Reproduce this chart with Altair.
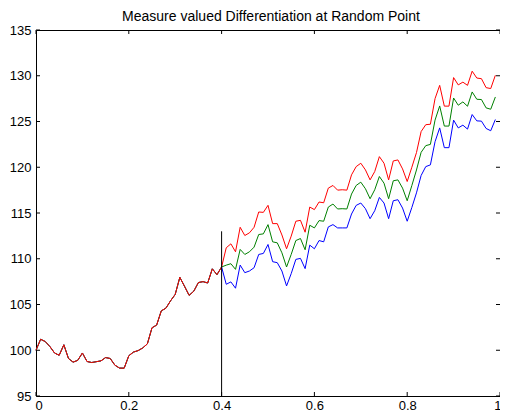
import altair as alt
import pandas as pd

title_text = "Measure valued Differentiation at Random Point"

# shared path from x = 0.00 to 0.40 (step 0.01)
common = [100.0, 101.2, 100.95, 100.4, 99.7, 99.45, 100.6, 99.1, 98.7, 98.9,
          99.7, 98.77, 98.66, 98.75, 98.84, 99.2, 99.1, 98.37, 98.05, 98.04,
          99.4, 99.8, 99.96, 100.25, 100.7, 102.46, 102.75, 104.3, 104.6, 105.4,
          106.1, 107.97, 107.0, 106.0, 106.45, 107.4, 107.5, 107.35, 108.9, 108.26,
          109.1]

# x = 0.41 .. 0.99
red_tail = [111.2, 111.63, 110.76, 113.44, 112.54, 112.83, 113.44, 115.11, 115.07, 115.84,
            113.84, 113.84, 112.6, 111.09, 112.47, 114.1, 114.2, 112.9, 115.65, 115.37,
            116.2, 116.12, 117.72, 118.01, 117.5, 117.54, 117.5, 119.17, 120.07, 120.44,
            119.71, 118.62, 119.53, 121.16, 120.44, 118.62, 120.69, 120.8, 119.82, 118.44,
            120.0, 121.6, 123.9, 124.65, 124.7, 127.5, 128.95, 126.68, 126.68, 129.8,
            129.0, 129.3, 128.95, 130.5, 129.75, 129.68, 128.7, 128.6, 130.05]

green_tail = [109.3, 109.46, 108.84, 111.02, 110.47, 110.76, 111.27, 112.65, 112.72, 113.73,
              111.85, 111.74, 110.65, 109.1, 110.47, 111.99, 112.21, 110.98, 113.66, 113.37,
              114.17, 114.1, 115.65, 115.98, 115.44, 115.47, 115.44, 117.07, 118.01, 118.37,
              117.65, 116.56, 117.54, 118.99, 118.26, 116.56, 118.52, 118.62, 117.72, 116.34,
              118.0, 119.7, 121.63, 122.36, 122.5, 125.15, 126.7, 124.5, 124.5, 127.57,
              126.78, 127.14, 126.67, 128.23, 127.43, 127.4, 126.49, 126.34, 127.68]

blue_tail = [107.21, 107.47, 106.78, 109.31, 108.48, 108.66, 109.02, 110.47, 110.58, 111.56,
             109.68, 109.57, 108.66, 107.03, 108.37, 109.93, 110.04, 108.92, 111.49, 111.09,
             111.99, 111.85, 113.48, 113.73, 113.37, 113.37, 113.37, 114.89, 115.83, 116.09,
             115.47, 114.38, 115.25, 116.7, 116.09, 114.38, 116.34, 116.45, 115.54, 114.1,
             115.6, 117.2, 119.1, 120.07, 120.26, 122.79, 124.3, 122.14, 122.14, 125.15,
             124.3, 124.6, 124.17, 125.76, 125.07, 125.04, 124.24, 123.99, 125.22]

x_vals = [i / 100 for i in range(100)]

vline_x = [0.4]
vline_y = [95]
vline_y2 = [113]

x_ticks = [0, 0.2, 0.4, 0.6, 0.8, 1]
y_ticks = [95, 100, 105, 110, 115, 120, 125, 130, 135]

W, H = 464, 366
FONT = "Liberation Sans"

xs = alt.Scale(domain=[0, 1], nice=False, zero=False)
ys = alt.Scale(domain=[95, 135], nice=False, zero=False)

x_axis = alt.Axis(values=x_ticks, format="~g", title=None, grid=False, domain=False,
                  ticks=False, tickSize=0, labelPadding=3, labelFontSize=13,
                  labelFont=FONT, labelColor="black", labelFlush=True, labelFlushOffset=1)
y_axis = alt.Axis(values=y_ticks, title=None, grid=False, domain=False,
                  ticks=False, tickSize=0, labelPadding=5, labelFontSize=13,
                  labelFont=FONT, labelColor="black", labelFlush=False)


def X(field):
    return alt.X(field, type="quantitative", scale=xs, axis=x_axis)


def Y(field):
    return alt.Y(field, type="quantitative", scale=ys, axis=y_axis)


def line(tail, color):
    df = pd.DataFrame({"x": x_vals, "y": common + tail})
    return alt.Chart(df).mark_line(color=color, strokeWidth=1).encode(x=X("x"), y=Y("y"))


blue = line(blue_tail, "#0000ff")
green = line(green_tail, "#008000")
red = line(red_tail, "#ff0000")

vline = alt.Chart(pd.DataFrame({"x": vline_x, "y": vline_y, "y2": vline_y2})).mark_rule(
    color="black", strokeWidth=1).encode(x=X("x"), y=Y("y"), y2="y2:Q")

xt = pd.DataFrame({"x": x_ticks})
yt = pd.DataFrame({"y": y_ticks})
TL = 4
bottom_ticks = alt.Chart(xt).mark_rule(color="black", strokeWidth=1).encode(
    x=X("x"), y=alt.value(H), y2=alt.value(H - TL))
top_ticks = alt.Chart(xt).mark_rule(color="black", strokeWidth=1).encode(
    x=X("x"), y=alt.value(0), y2=alt.value(TL))
left_ticks = alt.Chart(yt).mark_rule(color="black", strokeWidth=1).encode(
    y=Y("y"), x=alt.value(0), x2=alt.value(TL))
right_ticks = alt.Chart(yt).mark_rule(color="black", strokeWidth=1).encode(
    y=Y("y"), x=alt.value(W), x2=alt.value(W - TL))

# chart title, drawn as text above the plot area
title = alt.Chart(pd.DataFrame({"t": [title_text]})).mark_text(
    font=FONT, fontSize=14, color="black", align="center", baseline="alphabetic").encode(
    text="t:N", x=alt.value(235), y=alt.value(-9))

chart = alt.layer(blue, green, red, vline, bottom_ticks, top_ticks, left_ticks, right_ticks,
                  title).properties(
    width=W, height=H,
    autosize=alt.AutoSizeParams(type="none"),
    padding={"left": 28, "top": 22, "right": 0, "bottom": 15},
).configure(background="white").configure_view(stroke="black", strokeWidth=1)

chart.save("out.html", embed_options={"renderer": "svg", "actions": False})
